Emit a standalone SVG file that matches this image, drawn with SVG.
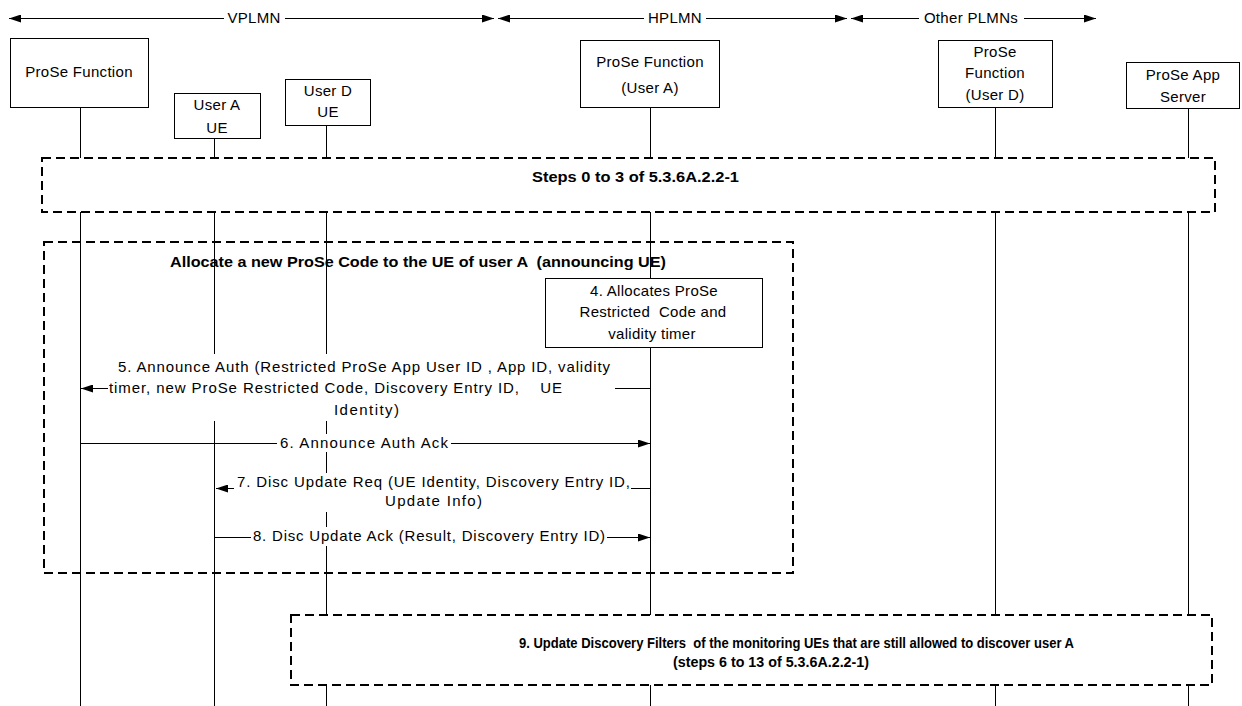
<svg xmlns="http://www.w3.org/2000/svg" width="1242" height="706" viewBox="0 0 1242 706">
<style>
  text { font-family: "Liberation Sans", Arial, sans-serif; font-size: 15px; fill: #000; }
  .n { letter-spacing: 0.3px; text-anchor: middle; }
  .m { text-anchor: start; }
  .b { font-weight: bold; font-size: 15px; }
  .box { fill: #fff; stroke: #000; stroke-width: 1; }
  .life { stroke: #000; stroke-width: 1; fill: none; }
  .dash { stroke: #000; stroke-width: 2; stroke-dasharray: 9 5; }
  .msg { stroke: #000; stroke-width: 1; fill: none; }
  .mask { fill: #fff; stroke: none; }
</style>
<defs>
  <marker id="ah" markerUnits="userSpaceOnUse" markerWidth="12" markerHeight="8" refX="12" refY="4" orient="auto">
    <path d="M0,0 L12,4 L0,8 z" fill="#000"/>
  </marker>
</defs>

<g id="domains">
  <line class="msg" x1="224" y1="18.5" x2="9" y2="18.5" marker-end="url(#ah)"/>
  <line class="msg" x1="285" y1="18.5" x2="494" y2="18.5" marker-end="url(#ah)"/>
  <text class="n" x="254" y="23">VPLMN</text>
  <line class="msg" x1="644" y1="18.5" x2="498" y2="18.5" marker-end="url(#ah)"/>
  <line class="msg" x1="706" y1="18.5" x2="847" y2="18.5" marker-end="url(#ah)"/>
  <text class="n" x="675" y="23">HPLMN</text>
  <line class="msg" x1="919" y1="18.5" x2="851" y2="18.5" marker-end="url(#ah)"/>
  <line class="msg" x1="1024" y1="18.5" x2="1096" y2="18.5" marker-end="url(#ah)"/>
  <text class="n" x="971" y="23">Other PLMNs</text>
</g>

<g id="lifelines">
  <line class="life" x1="80.5" y1="107" x2="80.5" y2="706"/>
  <line class="life" x1="214.5" y1="138" x2="214.5" y2="706"/>
  <line class="life" x1="326.5" y1="125" x2="326.5" y2="706"/>
  <line class="life" x1="650.5" y1="107" x2="650.5" y2="706"/>
  <line class="life" x1="995.5" y1="107" x2="995.5" y2="706"/>
  <line class="life" x1="1188.5" y1="108" x2="1188.5" y2="706"/>
</g>

<g id="node-vplmn-prose">
  <rect class="box" x="10.5" y="38.5" width="138" height="69"/>
  <text class="n" x="79" y="77">ProSe Function</text>
</g>
<g id="node-userA-ue">
  <rect class="box" x="174.5" y="93.5" width="86" height="45"/>
  <text class="n" x="217" y="110">User A</text>
  <text class="n" x="217" y="133">UE</text>
</g>
<g id="node-userD-ue">
  <rect class="box" x="285.5" y="79.5" width="85" height="46"/>
  <text class="n" x="328" y="96">User D</text>
  <text class="n" x="328" y="117">UE</text>
</g>
<g id="node-hplmn-prose">
  <rect class="box" x="580.5" y="40.5" width="139" height="67"/>
  <text class="n" x="650" y="67">ProSe Function</text>
  <text class="n" x="650" y="93">(User A)</text>
</g>
<g id="node-userD-prose">
  <rect class="box" x="938.5" y="40.5" width="114" height="67"/>
  <text class="n" x="995" y="57">ProSe</text>
  <text class="n" x="995" y="78">Function</text>
  <text class="n" x="995" y="100">(User D)</text>
</g>
<g id="node-app-server">
  <rect class="box" x="1126.5" y="62.5" width="113" height="46"/>
  <text class="n" x="1183" y="80">ProSe App</text>
  <text class="n" x="1183" y="102">Server</text>
</g>

<g id="steps-0-3">
  <rect class="dash" x="42" y="158" width="1173" height="54" fill="#fff"/>
  <text class="b" x="532" y="182" textLength="207" lengthAdjust="spacingAndGlyphs">Steps 0 to 3 of 5.3.6A.2.2-1</text>
</g>

<g id="allocate-frame">
  <rect class="dash" x="44" y="242" width="749" height="331" fill="none"/>
  <text class="b" x="170" y="267" textLength="496" lengthAdjust="spacingAndGlyphs" xml:space="preserve">Allocate a new ProSe Code to the UE of user A  (announcing UE)</text>
</g>

<g id="step4">
  <rect class="box" x="545.5" y="278.5" width="217" height="69"/>
  <text class="n" x="654" y="296">4. Allocates ProSe</text>
  <text class="n" x="653" y="317" xml:space="preserve">Restricted  Code and</text>
  <text class="n" x="652" y="339">validity timer</text>
</g>

<g id="connectors">
  <line class="msg" x1="650" y1="388.5" x2="81" y2="388.5" marker-end="url(#ah)"/>
  <line class="msg" x1="80" y1="443.5" x2="650" y2="443.5" marker-end="url(#ah)"/>
  <line class="msg" x1="650" y1="488.5" x2="216" y2="488.5" marker-end="url(#ah)"/>
  <line class="msg" x1="214" y1="537.5" x2="650" y2="537.5" marker-end="url(#ah)"/>
</g>

<g id="labels">
  <rect class="mask" x="108" y="354" width="507" height="67"/>
  <text class="m" x="118" y="372" textLength="492">5. Announce Auth (Restricted ProSe App User ID , App ID, validity</text>
  <text class="m" x="109" y="393" textLength="453" xml:space="preserve">timer, new ProSe Restricted Code, Discovery Entry ID,    UE</text>
  <text class="m" x="334" y="415" textLength="65">Identity)</text>

  <rect class="mask" x="277" y="434" width="174" height="18"/>
  <text class="m" x="280" y="448" textLength="168">6. Announce Auth Ack</text>

  <rect class="mask" x="234" y="473" width="397" height="39"/>
  <text class="m" x="237" y="487" textLength="393">7. Disc Update Req (UE Identity, Discovery Entry ID,</text>
  <text class="m" x="385" y="506" textLength="97">Update Info)</text>

  <rect class="mask" x="251" y="527" width="356" height="19"/>
  <text class="m" x="253" y="541" textLength="352">8. Disc Update Ack (Result, Discovery Entry ID)</text>
</g>

<g id="step9">
  <rect class="dash" x="291" y="615" width="921" height="70" fill="#fff"/>
  <text class="b" x="519" y="648" textLength="555" lengthAdjust="spacingAndGlyphs" xml:space="preserve">9. Update Discovery Filters  of the monitoring UEs that are still allowed to discover user A</text>
  <text class="b" x="673" y="667" textLength="196" lengthAdjust="spacingAndGlyphs">(steps 6 to 13 of 5.3.6A.2.2-1)</text>
</g>
</svg>
